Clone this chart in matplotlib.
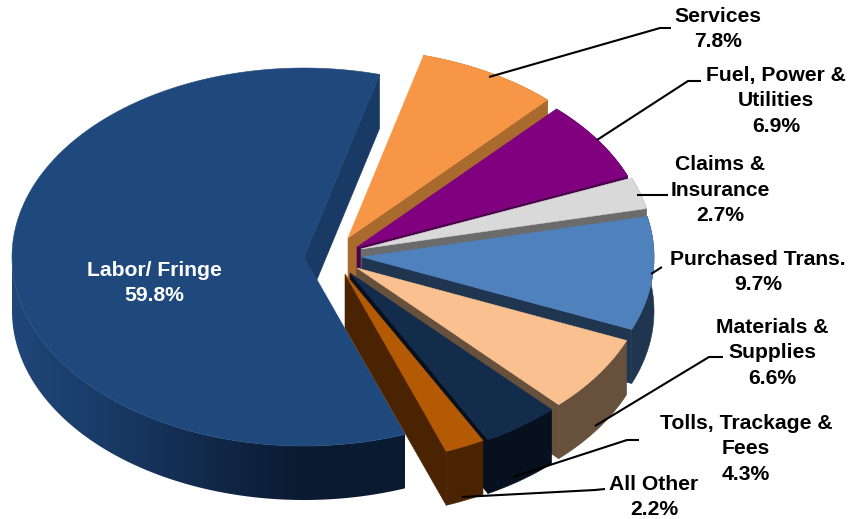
import numpy as np
import matplotlib
matplotlib.use('Agg')
import matplotlib.pyplot as plt
from matplotlib.colors import LinearSegmentedColormap
from matplotlib.patches import Polygon

plt.rcParams['font.family'] = ['Liberation Sans', 'DejaVu Sans']

# data
names = ['Labor/ Fringe', 'Services', 'Fuel, Power &\nUtilities', 'Claims &\nInsurance',
         'Purchased Trans.', 'Materials &\nSupplies', 'Tolls, Trackage &\nFees', 'All Other']
values = [59.8, 7.8, 6.9, 2.7, 9.7, 6.6, 4.3, 2.2]

# look of the slices
tops = ['#1F497D', '#F79646', '#800080', '#D9D9D9', '#4F81BD', '#FAC090', '#132C4C', '#B45A04']
walls = ['#1A3A66', '#A96A2E', '#4B004B', '#6B6B6B', '#1F3550', '#67503C', '#06101E', '#4A2303']
apex = [(304, 257), (348, 238), (357, 247), (361, 249), (362, 257), (357, 268), (350, 273), (345, 274)]
label_xy = [(154, 283), (718, 29), (776, 101), (720, 190), (758, 272), (772, 353), (746, 449), (654, 497)]
leaders = [None,
           [(489, 77), (660, 28), (671, 28)],
           [(597, 140), (688, 81), (701, 81)],
           [(637, 195), (668, 195)],
           [(651, 274), (662, 267)],
           [(595, 426), (709, 357), (723, 357)],
           [(513, 477), (627, 440), (639, 440)],
           [(462, 497), (595, 490), (605, 489)]]
a, b, depth = 292, 189, 54
start = 75


def rim(c, t0, t1, n=80):
    t = np.radians(np.linspace(t0, t1, n))
    return c[0] + a * np.cos(t), c[1] - b * np.sin(t)


def side_wall(c, t, color):
    x, y = rim(c, t, t, 1)
    ax.fill([c[0], x[0], x[0], c[0]], [c[1], y[0], y[0] + depth, c[1] + depth],
            color=color, lw=0.4)


def rim_wall_points(c, t0, t1):
    x, y = rim(c, t0, t1, 120)
    return np.r_[x, x[::-1]], np.r_[y, y[::-1] + depth]


fig = plt.figure(figsize=(8.49, 5.19), dpi=100)
ax = fig.add_axes([0, 0, 1, 1])
ax.axis('off')

sweep = np.array(values) / sum(values) * 360

# the big slice runs counter-clockwise from the start angle, the rest clockwise
t0, t1 = start, start + sweep[0]
side_wall(apex[0], t0, walls[0])

# front of the big slice shades from left to right
shade = LinearSegmentedColormap.from_list('front', ['#1F4778', '#193A66', '#12294A', '#0A1A30', '#0A1A30'])
wx, wy = rim_wall_points(apex[0], 180, t1)
grad = ax.imshow(np.linspace(0, 1, 256).reshape(1, -1), cmap=shade, aspect='auto',
                 extent=(12, 405, 500, 200), zorder=1)
grad.set_clip_path(Polygon(np.c_[wx, wy], transform=ax.transData))

x, y = rim(apex[0], t0, t1, 200)
ax.fill(np.r_[apex[0][0], x], np.r_[apex[0][1], y], color=tops[0], lw=0.4, zorder=2)

t = start
for i in range(1, len(values)):
    t_end = t - sweep[i]
    c = apex[i]
    z = 2 + i
    side_wall(c, t_end, walls[i])
    ax.patches[-1].set_zorder(z)
    wx, wy = rim_wall_points(c, t, t_end)
    ax.fill(wx, wy, color=walls[i], lw=0.4, zorder=z)
    x, y = rim(c, t, t_end)
    ax.fill(np.r_[c[0], x], np.r_[c[1], y], color=tops[i], lw=0.4, zorder=z)
    t = t_end

for line in leaders:
    if line:
        ax.plot(*zip(*line), color='black', lw=1.5, solid_capstyle='butt', zorder=20)

for i, name in enumerate(names):
    ax.text(label_xy[i][0], label_xy[i][1], f'{name}\n{values[i]}%', ha='center', va='center',
            fontsize=15.2, fontweight='bold', linespacing=1.42,
            color='white' if i == 0 else 'black', zorder=21)

ax.set_xlim(0, 849)
ax.set_ylim(519, 0)
fig.savefig('out.png', dpi=100)
